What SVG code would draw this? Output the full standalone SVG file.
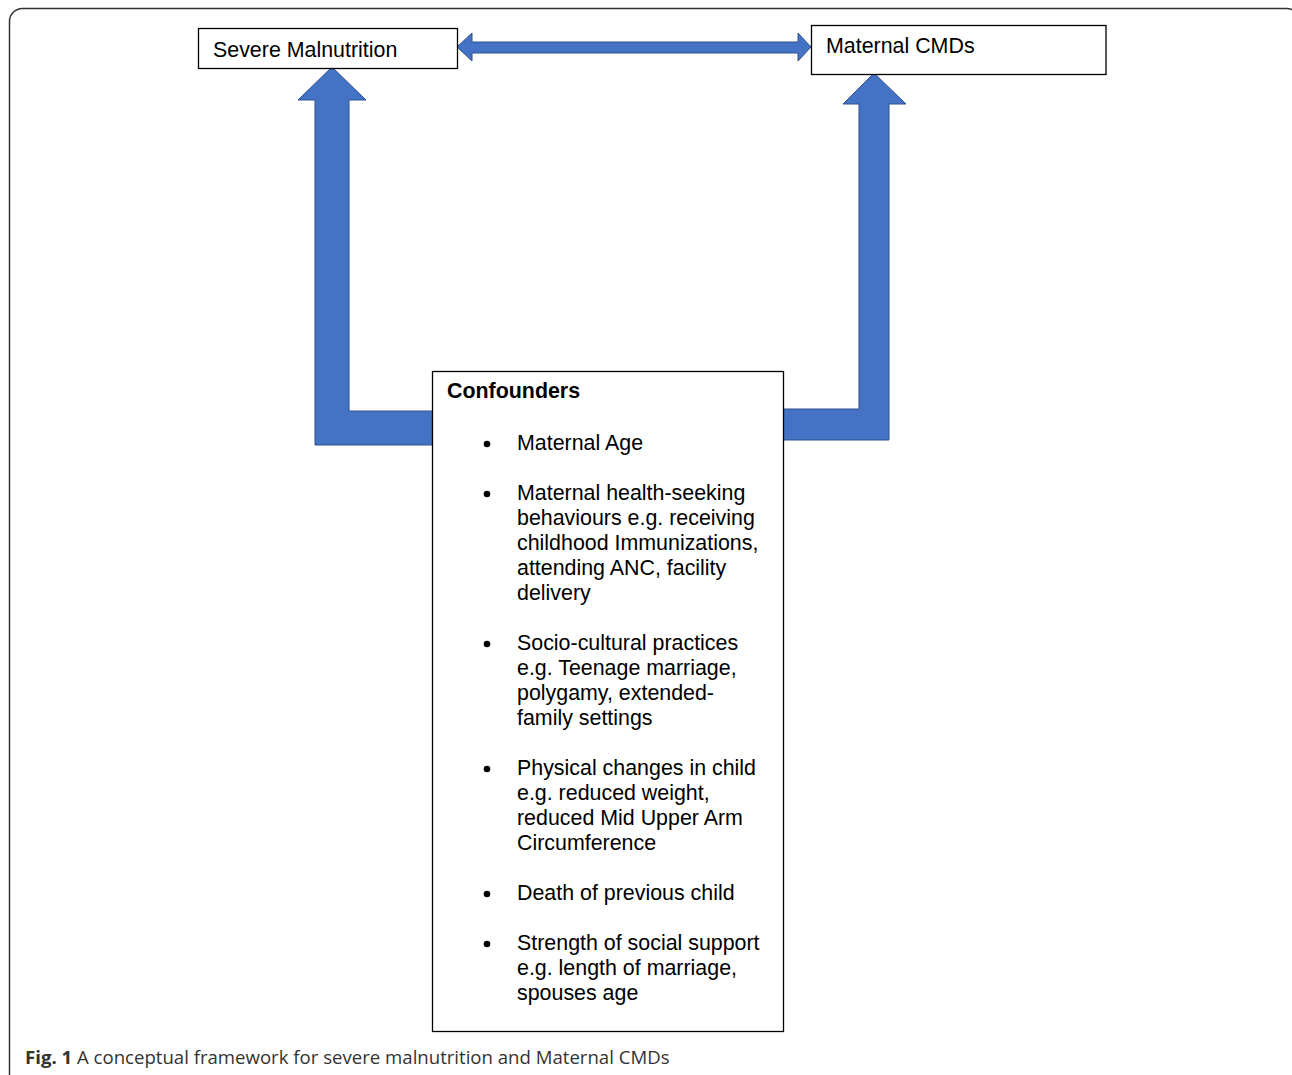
<svg xmlns="http://www.w3.org/2000/svg" width="1292" height="1075" viewBox="0 0 1292 1075">
<style>
.box{fill:#fff;stroke:#000;stroke-width:1.3}
.arrow{fill:#4472C4;stroke:#2F528F;stroke-width:1}
.t{font-family:"Liberation Sans",Arial,sans-serif;font-size:21.4px;fill:#000}
.b{font-weight:bold}
.cap{font-family:"Open Sans","Liberation Sans",sans-serif;font-size:18.6px;fill:#333}
</style>
<rect x="0" y="0" width="1292" height="1075" fill="#fff"/>
<rect x="9.5" y="8.5" width="1290" height="1100" rx="13" ry="13" fill="none" stroke="#333" stroke-width="1.5"/>
<g id="connectors">
<polygon class="arrow" points="332,67 366,100 349,100 349,411 433,411 433,445 315,445 315,100 298,100"/>
<polygon class="arrow" points="874,73 906,104 889,104 889,440 783,440 783,409 859,409 859,104 843,104"/>
<polygon class="arrow" points="457,47 472,33 472,42 798,42 798,33 811,47 798,61 798,53 472,53 472,61"/>
</g>
<g id="severe-malnutrition">
<rect class="box" x="198.5" y="28.5" width="259" height="40"/>
<text class="t" x="213" y="57">Severe Malnutrition</text>
</g>
<g id="maternal-cmds">
<rect class="box" x="811.5" y="25.5" width="294.5" height="49"/>
<text class="t" x="826" y="52.5">Maternal CMDs</text>
</g>
<g id="confounders">
<rect class="box" x="432.5" y="371.5" width="351" height="660"/>
<text class="t b" x="447" y="398">Confounders</text>
<g class="t">
<circle cx="487" cy="444" r="3.3"/>
<text x="517" y="450">Maternal Age</text>
<circle cx="487" cy="494" r="3.3"/>
<text x="517" y="500">Maternal health-seeking</text>
<text x="517" y="525">behaviours e.g. receiving</text>
<text x="517" y="550">childhood Immunizations,</text>
<text x="517" y="575">attending ANC, facility</text>
<text x="517" y="600">delivery</text>
<circle cx="487" cy="644" r="3.3"/>
<text x="517" y="650">Socio-cultural practices</text>
<text x="517" y="675">e.g. Teenage marriage,</text>
<text x="517" y="700">polygamy, extended-</text>
<text x="517" y="725">family settings</text>
<circle cx="487" cy="769" r="3.3"/>
<text x="517" y="775">Physical changes in child</text>
<text x="517" y="800">e.g. reduced weight,</text>
<text x="517" y="825">reduced Mid Upper Arm</text>
<text x="517" y="850">Circumference</text>
<circle cx="487" cy="894" r="3.3"/>
<text x="517" y="900">Death of previous child</text>
<circle cx="487" cy="944" r="3.3"/>
<text x="517" y="950">Strength of social support</text>
<text x="517" y="975">e.g. length of marriage,</text>
<text x="517" y="1000">spouses age</text>
</g>
</g>
<text class="cap" x="25" y="1064"><tspan font-weight="bold">Fig. 1</tspan> A conceptual framework for severe malnutrition and Maternal CMDs</text>
</svg>
